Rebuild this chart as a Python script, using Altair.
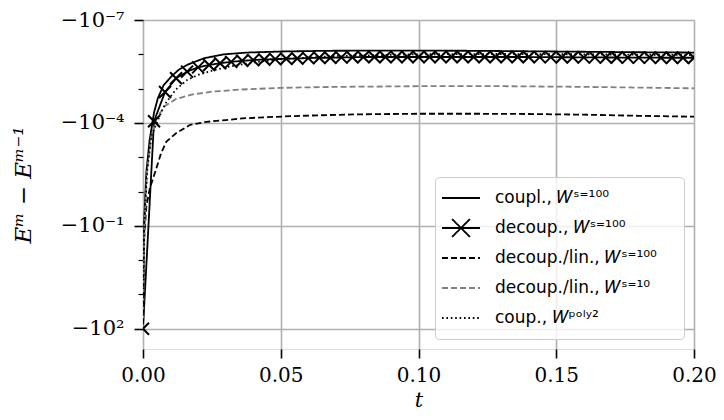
import altair as alt
import pandas as pd

SERIES = [
    "coupl., 𝑊ˢ⁼¹⁰⁰",
    "decoup., 𝑊ˢ⁼¹⁰⁰",
    "decoup./lin., 𝑊ˢ⁼¹⁰⁰",
    "decoup./lin., 𝑊ˢ⁼¹⁰",
    "coup., 𝑊ᵖᵒˡʸ²",
]
COLORS = ["black", "black", "black", "#808080", "black"]
DASHES = [[1, 0], [1, 0], [6, 3], [6, 3], [1.6, 2.8]]

# coupl., W^{s=100}
t_coupl = [0, 0.0004, 0.0012, 0.0024, 0.004, 0.0054, 0.0075, 0.0102, 0.013, 0.0162,
           0.0222, 0.0294, 0.0378, 0.05, 0.067, 0.09, 0.12, 0.15, 0.18, 0.2]
v_coupl = [-100, -0.079, -2.8e-3, -3.2e-4, -5.0e-5, -1.9e-5, -7.9e-6, -4.5e-6, -2.8e-6, -2.0e-6,
           -1.3e-6, -1.0e-6, -8.9e-7, -8.3e-7, -7.9e-7, -7.8e-7, -7.9e-7, -8.3e-7, -8.7e-7, -8.9e-7]

# decoup., W^{s=100}  (markers at every step)
t_decoup = [0.000, 0.004, 0.008, 0.012, 0.016, 0.020, 0.024, 0.028, 0.032, 0.036,
            0.040, 0.044, 0.048, 0.052, 0.056, 0.060, 0.064, 0.068, 0.072, 0.076,
            0.080, 0.084, 0.088, 0.092, 0.096, 0.100, 0.104, 0.108, 0.112, 0.116,
            0.120, 0.124, 0.128, 0.132, 0.136, 0.140, 0.144, 0.148, 0.152, 0.156,
            0.160, 0.164, 0.168, 0.172, 0.176, 0.180, 0.184, 0.188, 0.192, 0.196,
            0.200]
v_decoup = [-100, -8.9e-5, -1.26e-5, -5.0e-6, -3.2e-6, -2.4e-6, -2.05e-6, -1.82e-6, -1.66e-6, -1.55e-6,
            -1.48e-6, -1.41e-6, -1.38e-6, -1.35e-6, -1.32e-6, -1.29e-6, -1.26e-6, -1.26e-6, -1.23e-6, -1.22e-6,
            -1.20e-6, -1.20e-6, -1.20e-6, -1.20e-6, -1.20e-6, -1.20e-6, -1.20e-6, -1.20e-6, -1.20e-6, -1.20e-6,
            -1.20e-6, -1.20e-6, -1.20e-6, -1.20e-6, -1.20e-6, -1.20e-6, -1.21e-6, -1.21e-6, -1.22e-6, -1.22e-6,
            -1.23e-6, -1.23e-6, -1.24e-6, -1.24e-6, -1.25e-6, -1.25e-6, -1.25e-6, -1.26e-6, -1.26e-6, -1.26e-6,
            -1.26e-6]

# decoup./lin., W^{s=100}
t_lin100 = [0, 0.0004, 0.0012, 0.0025, 0.0043, 0.0065, 0.0085, 0.012, 0.017, 0.023, 0.03,
            0.036, 0.045, 0.055, 0.067, 0.08, 0.1, 0.12, 0.14, 0.16, 0.18, 0.2]
v_lin100 = [-100, -0.25, -2.75e-2, -7.9e-3, -2.9e-3, -7.9e-4, -3.5e-4, -2.0e-4, -1.15e-4, -9.3e-5, -8.3e-5,
            -7.4e-5, -6.8e-5, -6.3e-5, -5.9e-5, -5.6e-5, -5.4e-5, -5.4e-5, -5.5e-5, -5.75e-5, -6.2e-5, -6.6e-5]

# decoup./lin., W^{s=10}
t_lin10 = [0, 0.0005, 0.0015, 0.003, 0.005, 0.008, 0.012, 0.018, 0.025, 0.035, 0.05,
           0.07, 0.1, 0.13, 0.16, 0.2]
v_lin10 = [-100, -0.1, -2.5e-3, -2.5e-4, -7.1e-5, -3.2e-5, -2.0e-5, -1.48e-5, -1.23e-5, -1.07e-5, -9.5e-6,
           -8.9e-6, -8.5e-6, -8.5e-6, -8.9e-6, -9.8e-6]

# coup., W^{poly2}
t_poly = [0, 0.0005, 0.0015, 0.003, 0.005, 0.008, 0.012, 0.016, 0.02, 0.025, 0.03,
          0.04, 0.05, 0.07, 0.1, 0.13, 0.16, 0.2]
v_poly = [-100, -0.1, -2.5e-3, -2.5e-4, -1.0e-4, -2.8e-5, -1.05e-5, -5.6e-6, -4.0e-6, -3.0e-6, -2.4e-6,
          -1.74e-6, -1.38e-6, -1.12e-6, -1.0e-6, -9.8e-7, -1.0e-6, -1.05e-6]

Y_TICKS = [1e-7, 1e-6, 1e-5, 1e-4, 1e-3, 1e-2, 1e-1, 1e0, 1e1, 1e2]
X_TICKS = [0, 0.05, 0.1, 0.15, 0.2]

rows = []
for name, ts, vs in [
    (SERIES[0], t_coupl, v_coupl),
    (SERIES[1], t_decoup, v_decoup),
    (SERIES[2], t_lin100, v_lin100),
    (SERIES[3], t_lin10, v_lin10),
    (SERIES[4], t_poly, v_poly),
]:
    for i, (t, v) in enumerate(zip(ts, vs)):
        rows.append({"series": name, "t": t, "value": v, "order": i})
df = pd.DataFrame(rows)

MAJOR = "(round(log(datum.value)/LN10) + 7) % 3 === 0"

legend = alt.Legend(
    title=None, orient="bottom-right", offset=10,
    symbolSize=1444, symbolStrokeWidth=1.8, clipHeight=30, rowPadding=0,
    padding=6, labelFont="DejaVu Sans", labelFontSize=17, labelOffset=14,
    labelColor="black", fillColor="rgba(255,255,255,0.8)", strokeColor="#cccccc",
    cornerRadius=4, labelLimit=400,
    labelExpr="datum.label + '\u2002\u2002\u2009\u200b'",
)

x_enc = alt.X(
    "t:Q",
    scale=alt.Scale(domain=[0, 0.2], nice=False, zero=False),
    axis=alt.Axis(
        values=X_TICKS, format=".2f", title="t", titleFontStyle="italic",
        titleFont="DejaVu Serif", titleFontSize=21, titleFontWeight="normal",
        titlePadding=4, labelFont="DejaVu Serif", labelFontSize=20, labelPadding=7,
        tickSize=9, tickWidth=1.6, tickColor="black", labelColor="black",
        titleColor="black", domain=False, gridColor="#b0b0b0", gridWidth=1.6,
        labelFlush=False,
    ),
)

y_enc = alt.Y(
    "mag:Q",
    scale=alt.Scale(type="log", domain=[1e-7, 390], reverse=True, nice=False),
    axis=alt.Axis(
        values=Y_TICKS,
        labelExpr="(" + MAJOR + ") ? ['−10⁻⁷','','','−10⁻⁴','','','−10⁻¹','','','−10²'][round(log(datum.value)/LN10)+7] : ''",
        title="Eᵐ − Eᵐ⁻¹", titleFontStyle="italic", titleFont="DejaVu Serif",
        titleFontSize=23, titleFontWeight="normal", titlePadding=25,
        labelFont="DejaVu Serif", labelFontSize=21, labelPadding=10,
        labelOverlap=False, labelFlush=False, labelColor="black", titleColor="black",
        tickSize={"condition": {"test": MAJOR, "value": 9}, "value": 5},
        tickWidth={"condition": {"test": MAJOR, "value": 1.6}, "value": 1.2},
        gridOpacity={"condition": {"test": MAJOR, "value": 1}, "value": 0},
        tickColor="black", domain=False, gridColor="#b0b0b0", gridWidth=1.6,
    ),
)

color_enc = alt.Color("series:N", scale=alt.Scale(domain=SERIES, range=COLORS), legend=legend)
dash_enc = alt.StrokeDash("series:N", scale=alt.Scale(domain=SERIES, range=DASHES), legend=legend)
shape_enc = alt.Shape(
    "series:N",
    scale=alt.Scale(
        domain=SERIES,
        range=["stroke",
               "M-1,0L1,0M-0.47,-0.47L0.47,0.47M-0.47,0.47L0.47,-0.47",
               "stroke", "stroke", "stroke"],
    ),
    legend=legend,
)

base = alt.Chart(df).transform_calculate(mag="-datum.value")

lines = base.mark_line(strokeWidth=1.8, clip=True).encode(
    x=x_enc, y=y_enc, color=color_enc, strokeDash=dash_enc, order="order:Q",
)

markers = base.transform_filter(alt.datum.series == SERIES[1]).mark_point(
    shape="M-1,-1L1,1M-1,1L1,-1", size=144, strokeWidth=2, color="black",
    filled=False, opacity=1, clip=True,
).encode(x=x_enc, y=y_enc)

legend_layer = base.transform_filter("datum.t < 0").mark_point(
    filled=False, opacity=1, strokeWidth=1.8,
).encode(x=x_enc, y=y_enc, color=color_enc, strokeDash=dash_enc, shape=shape_enc)

chart = alt.layer(lines, markers, legend_layer).properties(
    width=551, height=329,
    padding={"left": 135, "top": 12, "right": 22, "bottom": 62},
    autosize=alt.AutoSizeParams(type="none"),
).configure_view(stroke="black", strokeWidth=1.6).configure(background="white")

chart.save("out.html", embed_options={"renderer": "svg", "actions": False})
